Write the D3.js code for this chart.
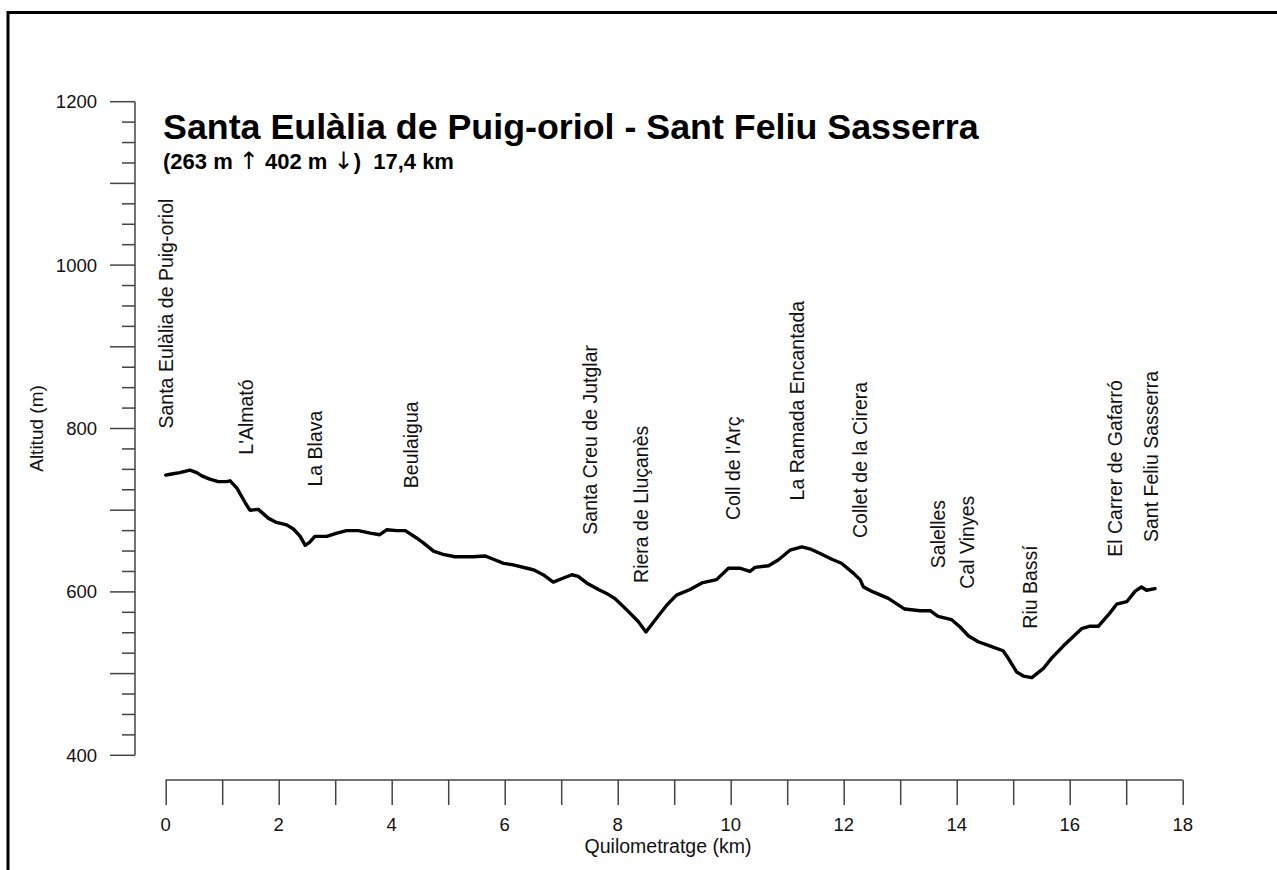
<!DOCTYPE html>
<html>
<head>
<meta charset="utf-8">
<script src="https://cdn.jsdelivr.net/npm/d3@7"></script>
<style>
  html, body { margin: 0; padding: 0; background: #fff; }
  svg { display: block; }
  text { font-family: Arial, "Liberation Sans", sans-serif; fill: #111; }
</style>
</head>
<body>
<svg id="chart" width="1277" height="870"></svg>
<script>
// ---- data ----
const distanceKm = [0.00,0.08,0.25,0.43,0.55,0.64,0.78,0.93,1.08,1.14,1.26,1.40,1.49,1.64,1.82,1.96,2.14,2.26,2.38,2.47,2.55,2.64,2.85,3.03,3.20,3.41,3.62,3.79,3.91,4.09,4.24,4.44,4.56,4.74,4.91,5.12,5.44,5.65,5.80,5.98,6.15,6.45,6.51,6.68,6.86,7.04,7.19,7.30,7.45,7.66,7.83,7.95,8.16,8.36,8.50,8.69,8.87,9.04,9.28,9.49,9.75,9.96,10.16,10.34,10.43,10.67,10.84,11.05,11.26,11.43,11.61,11.79,11.96,12.17,12.29,12.35,12.52,12.79,13.08,13.35,13.53,13.67,13.91,14.06,14.21,14.38,14.62,14.82,14.91,15.06,15.18,15.33,15.53,15.68,15.89,16.04,16.21,16.36,16.51,16.71,16.83,17.01,17.16,17.27,17.36,17.51];
const altitudeM = [743,744,746,749,746,742,738,735,735,736,727,710,700,701,690,685,682,677,668,657,661,668,668,672,675,675,672,670,676,675,675,666,660,650,646,643,643,644,640,635,633,628,627,621,612,617,621,619,611,603,597,592,578,564,551,568,584,596,603,611,615,629,629,625,630,632,639,651,655,652,646,640,635,623,615,606,600,592,579,577,577,570,566,557,546,539,533,528,519,502,497,495,506,519,534,544,555,558,558,574,585,588,601,606,602,604];

const placeNames = ["Santa Eulàlia de Puig-oriol","L'Almató","La Blava","Beulaigua","Santa Creu de Jutglar","Riera de Lluçanès","Coll de l'Arç","La Ramada Encantada","Collet de la Cirera","Salelles","Cal Vinyes","Riu Bassí","El Carrer de Gafarró","Sant Feliu Sasserra"];
const placeKm = [0.00,1.43,2.64,4.35,7.51,8.42,10.05,11.17,12.29,13.67,14.18,15.30,16.80,17.45];
const placeLabelAlt = [800,768,729,727,670,611,688,712,666,629,604,555,643,661];

const xTickValues = [0,2,4,6,8,10,12,14,16,18];
const yTickValues = [400,600,800,1000,1200];

const titleText = "Santa Eulàlia de Puig-oriol - Sant Feliu Sasserra";
const subtitleParts = [
  { t: "(263 m ", arrow: false },
  { t: "\u2191", arrow: true },
  { t: " 402 m ", arrow: false },
  { t: "\u2193", arrow: true },
  { t: ")  17,4 km", arrow: false }
];
const xAxisTitle = "Quilometratge (km)";
const yAxisTitle = "Altitud (m)";

// ---- drawing ----
const svg = d3.select("#chart");

// outer frame
svg.append("rect")
  .attr("x", 8).attr("y", 12.5)
  .attr("width", 1400).attr("height", 1000)
  .attr("fill", "none").attr("stroke", "#000").attr("stroke-width", 3);

const x = d3.scaleLinear().domain([0, 18]).range([165.7, 1182.7]);
const y = d3.scaleLinear().domain([400, 1200]).range([755.3, 101.7]);

const axisColor = "#444";

// Y axis
const yAxisG = svg.append("g").attr("transform", "translate(135,0)");
yAxisG.append("line")
  .attr("x1", 0).attr("x2", 0)
  .attr("y1", y(400)).attr("y2", y(1200))
  .attr("stroke", axisColor).attr("stroke-width", 1.5);
const yMinor = d3.range(400, 1201, 25);
yAxisG.selectAll("line.tick").data(yMinor).join("line")
  .attr("class", "tick")
  .attr("x1", d => (d % 100 === 0) ? -25 : -13).attr("x2", 0)
  .attr("y1", d => y(d)).attr("y2", d => y(d))
  .attr("stroke", axisColor).attr("stroke-width", 1.5);
yAxisG.selectAll("text").data(yTickValues).join("text")
  .attr("x", -38).attr("y", d => y(d))
  .attr("dy", "0.35em")
  .attr("text-anchor", "end")
  .style("font-size", "18.5px")
  .text(d => d);

// X axis
const xAxis = d3.axisBottom(x).tickValues(d3.range(0, 19, 1)).tickSize(25).tickFormat("");
const xAxisG = svg.append("g").attr("transform", "translate(0,780)").call(xAxis);
xAxisG.select(".domain").attr("stroke", axisColor).attr("stroke-width", 1.5).attr("d", `M${x(0)},0H${x(18)}`);
xAxisG.selectAll(".tick line").attr("stroke", axisColor).attr("stroke-width", 1.5);
svg.append("g").selectAll("text").data(xTickValues).join("text")
  .attr("x", d => x(d)).attr("y", 825)
  .attr("dy", "0.35em")
  .attr("text-anchor", "middle")
  .style("font-size", "18.5px")
  .text(d => d);

// axis titles
svg.append("text")
  .attr("x", 668).attr("y", 853)
  .attr("text-anchor", "middle")
  .style("font-size", "19.5px")
  .text(xAxisTitle);
svg.append("text")
  .attr("transform", `translate(36,${(y(400) + y(1200)) / 2}) rotate(-90)`)
  .attr("dy", "0.35em")
  .attr("text-anchor", "middle")
  .style("font-size", "19px")
  .text(yAxisTitle);

// profile line
const profile = distanceKm.map((d, i) => [d, altitudeM[i]]);
const line = d3.line().x(d => x(d[0])).y(d => y(d[1]));
svg.append("path")
  .datum(profile)
  .attr("d", line)
  .attr("fill", "none")
  .attr("stroke", "#000")
  .attr("stroke-width", 3.4)
  .attr("stroke-linejoin", "round")
  .attr("stroke-linecap", "round");

// place labels
svg.append("g").selectAll("text").data(placeNames).join("text")
  .attr("transform", (d, i) => `translate(${x(placeKm[i])},${y(placeLabelAlt[i])}) rotate(-90)`)
  .attr("dy", "0.35em")
  .attr("text-anchor", "start")
  .style("font-size", "19.5px")
  .text(d => d);

// title
svg.append("text")
  .attr("x", 163).attr("y", 139)
  .style("font-size", "35.8px")
  .style("font-weight", "bold")
  .style("fill", "#000")
  .text(titleText);
const sub = svg.append("text")
  .attr("x", 163).attr("y", 169)
  .style("font-size", "22px")
  .style("font-weight", "bold")
  .style("fill", "#000")
  .style("white-space", "pre");
sub.selectAll("tspan").data(subtitleParts).join("tspan")
  .style("font-family", d => d.arrow ? "'DejaVu Sans', sans-serif" : null)
  .style("font-weight", d => d.arrow ? "normal" : null)
  .style("font-size", d => d.arrow ? "24px" : null)
  .text(d => d.t);
</script>
</body>
</html>
